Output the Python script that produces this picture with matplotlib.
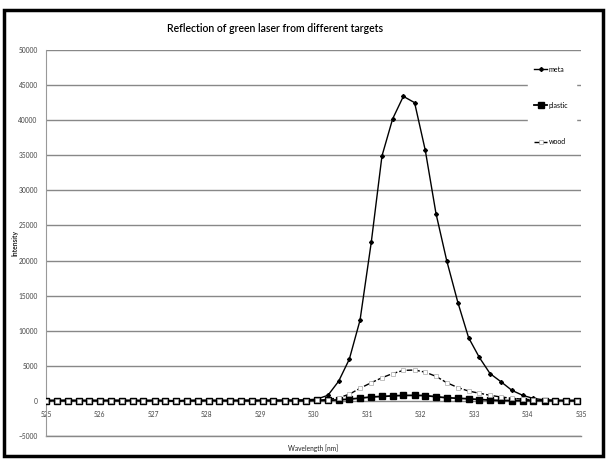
import matplotlib.pyplot as plt
from matplotlib.patches import Rectangle

wavelength = [525.00, 525.20, 525.41, 525.61, 525.81, 526.01, 526.22, 526.42, 526.62, 526.82,
              527.03, 527.23, 527.43, 527.63, 527.84, 528.04, 528.24, 528.44, 528.65, 528.85,
              529.05, 529.25, 529.46, 529.66, 529.86, 530.06, 530.27, 530.47, 530.67, 530.87,
              531.08, 531.28, 531.48, 531.68, 531.89, 532.09, 532.29, 532.49, 532.70, 532.90,
              533.10, 533.30, 533.51, 533.71, 533.91, 534.11, 534.32, 534.52, 534.72, 534.92]

meta = [90, 80, 100, 70, 90, 80, 100, 90, 80, 70,
        90, 60, 20, 80, 90, 100, 80, 90, 100, 110,
        90, 120, 110, 130, 150, 250, 800, 2800, 5950, 11500,
        22600, 34900, 40200, 43400, 42500, 35700, 26700, 20000, 14000, 9000,
        6200, 3900, 2700, 1500, 800, 350, 150, 90, 80, 70]

plastic = [50, 40, 50, 40, 50, 40, 50, 40, 50, 40,
           50, 40, 0, 40, 50, 40, 50, 40, 50, 40,
           50, 40, 50, 40, 50, 60, 80, 150, 250, 400,
           560, 640, 720, 780, 790, 760, 600, 450, 380, 300,
           200, 120, 60, 50, 40, 50, 40, 50, 40, 50]

wood = [30, 30, 40, 30, 30, 30, 40, 30, 30, 30,
        30, 30, 0, 30, 30, 40, 30, 30, 30, 40,
        30, 40, 30, 40, 50, 80, 200, 450, 950, 1800,
        2600, 3300, 3900, 4350, 4400, 4100, 3500, 2600, 1900, 1400,
        1100, 800, 550, 380, 250, 150, 80, 40, 40, 40]

plt.rcParams['font.family'] = ['Lato', 'DejaVu Sans']

fig = plt.figure(figsize=(6.06, 4.59), dpi=100)
ax = fig.add_axes([0.0759, 0.0501, 0.8828, 0.8409])

ax.plot(wavelength, meta, color='black', lw=1.0, marker='D', ms=2.0, label='meta', zorder=3)
ax.plot(wavelength, plastic, color='black', lw=1.3, marker='s', ms=4.8, label='plastic', zorder=4)
ax.plot(wavelength, wood, color='black', lw=1.0, ls=(0, (4, 1.5)), marker='s', ms=3.2,
        mfc='white', mec='#aaaaaa', mew=0.5, label='wood', zorder=5)

ax.set_xlim(525, 535)
ax.set_ylim(-5000, 50000)
ax.set_yticks(range(-5000, 50001, 5000))
ax.set_xticks(range(525, 536))
ax.yaxis.grid(True, color='#888888', lw=1.0)
ax.axhline(-5000, color='#888888', lw=1.0, clip_on=False, zorder=0)
ax.set_axisbelow(True)

# category labels hang off the zero line, like a spreadsheet chart
ax.spines['bottom'].set_position(('data', 0))
for side in ['top', 'right', 'bottom']:
    ax.spines[side].set_visible(False)
ax.spines['left'].set_color('#999999')
ax.tick_params(axis='both', length=0, labelsize=4.8, labelcolor='#444444')
ax.tick_params(axis='y', pad=6)
ax.tick_params(axis='x', pad=7)

ax.set_xlabel('Wavelength [nm]', fontsize=4.8, color='#222222')
ax.xaxis.set_label_coords(0.5, -0.022)
ax.set_ylabel('Intensity', fontsize=4.8, fontweight='bold', color='#222222')
ax.yaxis.set_label_coords(-0.052, 0.5)

leg = ax.legend(loc='upper left', bbox_to_anchor=(0.901, 0.874, 0.089, 0.1), mode='expand',
                frameon=True, fontsize=5, handlelength=2.0, handletextpad=0.2,
                labelspacing=4.2, borderpad=0.8, borderaxespad=0)
leg.get_frame().set_edgecolor('white')
leg.get_frame().set_facecolor('white')
leg.get_frame().set_alpha(1)
leg.get_frame().set_boxstyle('square', pad=0)

fig.text(0.454, 0.938, 'Reflection of green laser from different targets', ha='center',
         va='center', fontsize=7.6, fontweight='semibold', color='black')

fig.patches.append(Rectangle((0.007, 0.007), 0.988, 0.972, transform=fig.transFigure,
                             fill=False, ec='black', lw=2.5))

fig.savefig('out.png', dpi=100)
